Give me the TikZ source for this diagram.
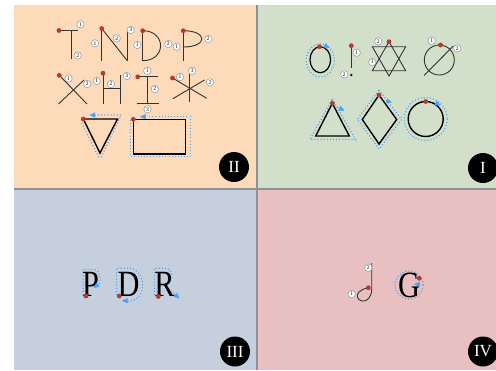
\documentclass[tikz,border=0pt]{standalone}
\usepackage{fontspec}
\setmainfont{Liberation Serif}
\usetikzlibrary{arrows.meta}
\definecolor{pOrange}{HTML}{FDDBBA}
\definecolor{pGreen}{HTML}{D2DFCB}
\definecolor{pBlue}{HTML}{C6CFDD}
\definecolor{pPink}{HTML}{E8C0C1}
\definecolor{dotred}{HTML}{B83A2C}
\definecolor{guideblue}{HTML}{4AA3F2}
\definecolor{divgray}{HTML}{8E9296}
\tikzset{
  stroke/.style={draw=black!80, line width=0.9pt},
  shapeline/.style={draw=black, line width=1.4pt, line join=miter},
  startdot/.style={fill=dotred, draw=none},
  guide/.style={draw=guideblue, line width=1.2pt, dash pattern=on 1pt off 2.1pt},
  guidearrow/.style={draw=guideblue, line width=0.3pt, -{Triangle[length=5.5pt,width=5pt]}},
  numlab/.style={circle, draw=gray!75, fill=white, line width=0.6pt, inner sep=0pt,
    minimum size=7.4pt, font=\fontsize{5.5}{5.5}\selectfont},
  badge/.style={circle, fill=black, minimum size=30pt, inner sep=0pt, text=white,
    font=\fontsize{17}{17}\selectfont},
  bigletter/.style={font=\fontsize{37}{37}\selectfont, inner sep=0pt, xscale=0.82, anchor=base},
}
\newcommand{\sdot}[1]{\fill[startdot] #1 circle (2.4pt);}
\begin{document}
\begin{tikzpicture}[x=1pt,y=-1pt]
\useasboundingbox (0,0) rectangle (496,370);
\fill[white] (0,0) rectangle (496,370);
% panels
\fill[pOrange] (14,5) rectangle (257,189);
\fill[pGreen] (257,5) rectangle (496,189);
\fill[pBlue] (14,189) rectangle (257,370);
\fill[pPink] (257,189) rectangle (496,370);
\draw[divgray, line width=2.2pt] (257,5) -- (257,370);
\draw[divgray, line width=2.2pt] (14,189) -- (496,189);

% ================= Panel II =================
% T
\draw[stroke] (59,30.5) -- (78,30.5);
\draw[stroke] (71.7,30.5) -- (71.7,59);
\sdot{(59,30.5)}
\node[numlab] (t1) at (80.5,24.3) {1};
\node[numlab] (t2) at (77.7,55.5) {2};
% N
\draw[stroke] (101.7,28.5) -- (101.7,60.7);
\draw[stroke] (101.7,28.5) -- (127.3,60.7);
\draw[stroke] (127.3,30) -- (127.3,60.7);
\sdot{(101.7,28.5)}
\node[numlab] (n1) at (95,43.3) {1};
\node[numlab] (n2) at (116.7,38.3) {2};
\node[numlab] (n3) at (130.7,30) {3};
% D
\draw[stroke] (142.7,30.7) -- (142.7,60.7);
\draw[stroke] (142.7,30.7) .. controls (166.5,30.7) and (166.5,60.7) .. (142.7,60.7);
\sdot{(142.7,30.7)}
\node[numlab] (d1) at (137.3,45) {1};
\node[numlab] (d2) at (168.3,44) {2};
% P
\draw[stroke] (183.3,30.7) -- (183.3,60.7);
\draw[stroke] (183.3,30.7) .. controls (208,30.7) and (208,47) .. (183.3,47);
\sdot{(183.3,30.7)}
\node[numlab] (p1) at (176.7,46.7) {1};
\node[numlab] (p2) at (208.3,39) {2};
% X
\draw[stroke] (59.3,75.3) -- (87,104);
\draw[stroke] (84,80) -- (58.5,104);
\sdot{(59.3,75.3)}
\node[numlab] (x1) at (68.5,78.5) {1};
\node[numlab] (x2) at (87.3,84) {2};
% H
\draw[stroke] (103,73.2) -- (103,104.3);
\draw[stroke] (120,75) -- (120,104.3);
\draw[stroke] (103,88.8) -- (120,88.8);
\sdot{(103,73.2)}
\node[numlab] (h1) at (96.7,81) {1};
\node[numlab] (h2) at (111,84) {2};
\node[numlab] (h3) at (126.7,76) {3};
% I
\draw[stroke] (137.7,76.8) -- (158.3,76.8);
\draw[stroke] (147.3,76.8) -- (147.3,103.3);
\draw[stroke] (136.7,103.3) -- (159.3,103.3);
\sdot{(137.7,76.8)}
\node[numlab] (i1) at (147.3,70.8) {1};
\node[numlab] (i2) at (154.8,89) {2};
\node[numlab] (i3) at (147.5,109.3) {3};
% asterisk
\draw[stroke] (172.5,78) -- (206.7,98.3);
\draw[stroke] (204.5,80) -- (172.7,98.8);
\draw[stroke] (189.2,74) -- (189.2,101.5);
\sdot{(172.5,78)}
\node[numlab] (a1) at (180,77) {1};
\node[numlab] (a3) at (192.2,70.8) {3};
\node[numlab] (a2) at (210,82.3) {2};
% inverted triangle
\draw[guide] (81.7,123) -- (98.5,156.7) -- (101.5,156.7) -- (121,115) -- (97,115);
\draw[guidearrow] (95.5,115) -- (89.5,115);
\draw[shapeline] (83.3,119) -- (117.5,119) -- (100,153) -- cycle;
\sdot{(83.3,119)}
% rectangle
\draw[guide] (130.8,120) -- (130.8,156.7) -- (190.5,156.7) -- (190.5,116.7) -- (148,116.7);
\draw[guidearrow] (146,116.7) -- (140,116.7);
\draw[shapeline] (133.3,119.3) rectangle (185.7,154);
\sdot{(133.3,119.3)}
\node[badge] (b2) at (234,167) {II};

% ================= Panel I =================
% O
\draw[guide] (320.3,60.5) ellipse [x radius=14, y radius=16.5];
\draw[shapeline, line width=1.2pt] (320.3,59.7) ellipse [x radius=10.3, y radius=13];
\draw[guidearrow] (324,45) -- (329.5,47.8);
\sdot{(319.5,46.7)}
% !
\draw[stroke] (351.3,45.7) -- (351.3,68.3);
\fill[black] (351.3,75) circle (1.3pt);
\sdot{(351.3,45.7)}
\node[numlab] (e1) at (356.7,52.7) {1};
\node[numlab] (e2) at (344.3,74.3) {2};
% star
\draw[stroke] (389,41.7) -- (372.3,70.7) -- (405.7,70.7) -- cycle;
\draw[stroke] (372.3,46.7) -- (405.7,46.7) -- (389,76) -- cycle;
\sdot{(389,41.7)}
\node[numlab] (s2) at (378.3,41.3) {2};
\node[numlab] (s1) at (372.3,62) {1};
% slashed circle
\draw[stroke] (439.3,60) circle (15);
\draw[stroke] (453.3,46) -- (424,75.5);
\sdot{(440.5,45)}
\node[numlab] (o1) at (431.7,40.7) {1};
\node[numlab] (o2) at (457.3,48.3) {2};
% triangle
\draw[guide] (332.3,99) -- (355.5,139.5) -- (310,139.5) -- cycle;
\draw[shapeline] (332.3,103.3) -- (349.3,136) -- (315.7,136) -- cycle;
\draw[guidearrow] (338,107.5) -- (344.5,110.5);
\sdot{(332.3,103.3)}
% diamond
\draw[guide] (379,90) -- (401.5,119.5) -- (379,149) -- (357.5,119.5) -- cycle;
\draw[shapeline] (379,95) -- (396.7,119.5) -- (379,144) -- (362.3,119.5) -- cycle;
\draw[guidearrow] (385.5,100.8) -- (392,102.2);
\sdot{(379,95)}
% circle
\draw[guide] (425.7,119) circle (21.5);
\draw[shapeline] (425.7,119) circle (17.5);
\draw[guidearrow] (434,102) -- (440.5,105.5);
\sdot{(425.7,101.5)}
\node[badge] (b1) at (483,168) {I};

% ================= Panel III =================
\draw[guide] (83,295) -- (83,269.5) -- (93,269.5) .. controls (101,269.5) and (102,282) .. (98,284.5);
\draw[guide] (116.5,295) -- (116.5,268.3) -- (128,268.3) .. controls (147,268.3) and (147,300.7) .. (130,300.7);
\draw[guide] (154.5,295) -- (154.5,268.3) -- (165,268.3) .. controls (174,268.3) and (175,283) .. (164,284) -- (174,293.5);
\node[bigletter] (lp) at (90.5,296.7) {P};
\node[bigletter] (ld) at (128.7,296.7) {D};
\node[bigletter] (lr) at (164.5,296.7) {R};
\draw[guidearrow] (98.5,284.2) -- (93.5,288);
\draw[guidearrow] (129,300.7) -- (122,300.7);
\draw[guidearrow] (174,293.5) -- (179.5,298.5);
\sdot{(86,296)}
\sdot{(119.3,296)}
\sdot{(158.3,296.5)}
\node[badge] (b3) at (235,351.5) {III};

% ================= Panel IV =================
\draw[stroke] (371.7,263) -- (371.7,289) .. controls (371.7,297) and (367,302) .. (362,301)
  .. controls (357,300) and (356,295) .. (359,292) .. controls (361.5,289.5) and (365,288.3) .. (368.3,287.7);
\sdot{(368.3,287.7)}
\node[numlab] (j2) at (368.3,267.7) {2};
\node[numlab] (j1) at (351.7,294) {1};
\draw[guide] (409,285) circle (14);
\node[bigletter, anchor=center] (lg) at (409,285.5) {G};
\draw[guidearrow] (420,284.3) -- (414,284.3);
\sdot{(419.3,278.3)}
\node[badge] (b4) at (483,351.5) {IV};
\end{tikzpicture}
\end{document}
